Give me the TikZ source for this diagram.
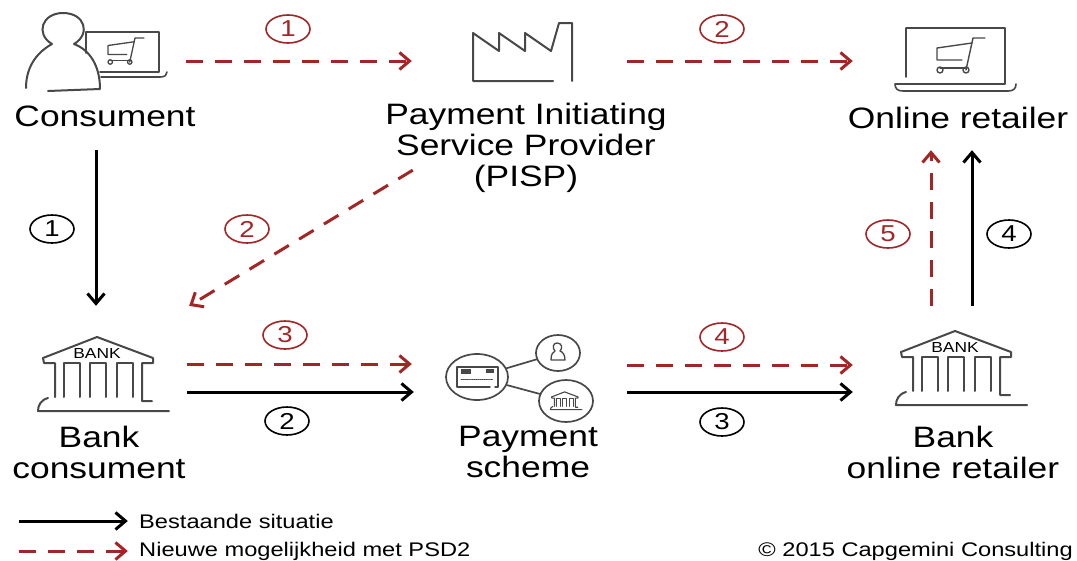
\documentclass[tikz,border=0pt]{standalone}
\usepackage{fontspec}
\setmainfont[FakeStretch=1.2]{Liberation Sans}
\usepackage{tikz}
\usetikzlibrary{arrows.meta,shapes}
\definecolor{psdred}{RGB}{163,38,38}
\definecolor{icongrey}{RGB}{72,72,72}
\tikzset{
  endpt/.style={inner sep=0pt, minimum size=0pt},
  oldflow/.style={draw=black, line width=3pt, -{Straight Barb[length=10pt,width=17pt,line width=3pt]}},
  newflow/.style={draw=psdred, line width=3pt, dash pattern=on 17pt off 12pt, -{Straight Barb[length=10pt,width=17pt,line width=3pt]}},
  numold/.style={ellipse, draw=black, line width=1.6pt, minimum width=44pt, minimum height=28pt, inner sep=0pt, font=\fontsize{23}{23}\selectfont},
  numnew/.style={numold, draw=psdred, text=psdred},
  lbl/.style={align=center, inner sep=0pt, font=\fontsize{29.5}{31}\selectfont},
  legend/.style={anchor=west, inner sep=0pt, font=\fontsize{19.7}{20}\selectfont},
  icon/.style={draw=icongrey, line width=2pt, line join=round, line cap=round},
  smallcircle/.style={ellipse, draw=icongrey, line width=1.7pt, inner sep=0pt},
  cart/.pic={
    \draw (48,0) -- (36,0) -- (29,32);
    \draw (35,5) -- (0,10) -- (0,22) -- (25,22);
    \draw (3,30) -- (29,30);
    \draw (3,32) circle (3pt);
    \draw (29,32) circle (3pt);
  },
  bankicon/.pic={
    \draw (38,358) -- (92,337) -- (148,358) -- (148,363) -- (137,363) -- (137,401) -- (147,401);
    \draw (38,358) -- (39,363) -- (50,363) -- (50,397);
    \draw (59,397) -- (59,363) -- (75,363) -- (75,397);
    \draw (85,397) -- (85,363) -- (101,363) -- (101,397);
    \draw (112,397) -- (112,363) -- (128,363) -- (128,397);
    \draw (43,398) .. controls (36,400) and (33,405) .. (33,411) -- (164,411);
  }
}
\begin{document}
\begin{tikzpicture}[x=1pt,y=-1pt]
  \useasboundingbox (0,0) rectangle (1077,560);
  \node [lbl] (consument) at (105,116) {Consument};
  \node [lbl] (pisp) at (526,148) {Payment Initiating\\Service Provider\\(PISP)};
  \node [lbl] (retailer) at (958,118) {Online retailer};
  \node [lbl] (bankc) at (99,452) {Bank\\consument};
  \node [lbl] (scheme) at (528,452) {Payment\\scheme};
  \node [lbl] (bankr) at (953,452) {Bank\\online retailer};

  \draw [icon] (26,88) .. controls (26,70) and (34,54) .. (52,44) .. controls (35,34) and (42,13) .. (63,13) .. controls (85,13) and (91,34) .. (74,44) .. controls (90,50) and (100,66) .. (100,89) -- (48,91);
  \draw [icon, line width=1.6pt] (86,53) -- (86,32) -- (159,32) -- (159,72) -- (100,72);
  \draw [icon, line width=1.6pt] (101,77) -- (160,77) .. controls (165,77) and (167,75) .. (167,72);
  \pic [icon, line width=1.3pt, scale=0.75] at (108,38) {cart};

  \draw [icon] (553,81) -- (473,81) -- (473,33) -- (499,51) -- (499,33) -- (525,51) -- (525,33) -- (551,51) -- (559,23) -- (572,23) -- (572,81);

  \draw [icon, line width=1.6pt] (906,77) -- (906,28) -- (1005,28) -- (1005,84) -- (895,84) .. controls (895,89) and (898,91) .. (903,91) -- (1008,91) .. controls (1013,91) and (1016,89) .. (1016,84);
  \pic [icon, line width=1.4pt] at (937,38) {cart};

  \pic [icon, shift={(5,0)}] at (0,0) {bankicon};
  \node [inner sep=0pt, font=\fontsize{14.5}{15}\selectfont] (banka) at (97,354) {BANK};
  \pic [icon, shift={(863,-6)}] at (0,0) {bankicon};
  \node [inner sep=0pt, font=\fontsize{14.5}{15}\selectfont] (bankb) at (955,348) {BANK};

  \node [smallcircle, minimum width=62pt, minimum height=46pt] (sa) at (477,377) {};
  \node [smallcircle, minimum width=44pt, minimum height=36pt] (sb) at (558,353) {};
  \node [smallcircle, minimum width=54pt, minimum height=42pt] (sc) at (566,401) {};
  \draw [icon, line width=1.7pt] (sa) -- (sb);
  \draw [icon, line width=1.7pt] (sa) -- (sc);
  \draw [icon, line width=1.4pt] (490,387) -- (457,387) -- (457,367) -- (498,367) -- (498,387) -- (495,387);
  \fill [icongrey] (461,369) rectangle (471,374);
  \fill [icongrey] (486,369) rectangle (494,373);
  \draw [icon, line width=0.9pt, densely dotted] (461,379) -- (493,379);
  \draw [icon, line width=1.3pt] (551,360) .. controls (551,354) and (553,352) .. (555,351) .. controls (552,348) and (553,343) .. (557,343) .. controls (562,343) and (563,348) .. (560,351) .. controls (563,352) and (565,355) .. (565,360) -- (551,360);
  \pic [icon, line width=1.1pt, scale=0.24] at (542.5,311) {bankicon};

  \node [endpt] (a1) at (186,61) {};
  \node [endpt] (a2) at (412,61) {};
  \node [endpt] (a3) at (627,61) {};
  \node [endpt] (a4) at (853,61) {};
  \node [endpt] (b1) at (96,150) {};
  \node [endpt] (b2) at (96,306) {};
  \node [endpt] (b3) at (413,170) {};
  \node [endpt] (b4) at (189,306) {};
  \node [endpt] (c1) at (187,364) {};
  \node [endpt] (c2) at (412,364) {};
  \node [endpt] (c3) at (187,392) {};
  \node [endpt] (c4) at (414,392) {};
  \node [endpt] (c5) at (627,365) {};
  \node [endpt] (c6) at (853,365) {};
  \node [endpt] (c7) at (627,392) {};
  \node [endpt] (c8) at (853,392) {};
  \node [endpt] (d1) at (931,306) {};
  \node [endpt] (d2) at (931,150) {};
  \node [endpt] (d3) at (972,306) {};
  \node [endpt] (d4) at (972,150) {};
  \node [endpt] (e1) at (19,521) {};
  \node [endpt] (e2) at (128,521) {};
  \node [endpt] (e3) at (19,551) {};
  \node [endpt] (e4) at (128,551) {};
  \draw [newflow] (a1) -- (a2);
  \draw [newflow] (a3) -- (a4);
  \draw [oldflow] (b1) -- (b2);
  \draw [newflow] (b3) -- (b4);
  \draw [newflow] (c1) -- (c2);
  \draw [oldflow] (c3) -- (c4);
  \draw [newflow] (c5) -- (c6);
  \draw [oldflow] (c7) -- (c8);
  \draw [newflow] (d1) -- (d2);
  \draw [oldflow] (d3) -- (d4);
  \draw [oldflow] (e1) -- (e2);
  \draw [newflow] (e3) -- (e4);

  \node [numnew] (n1) at (288,29) {1};
  \node [numnew] (n2) at (722,29) {2};
  \node [numold] (n3) at (52,229) {1};
  \node [numnew] (n4) at (247,229) {2};
  \node [numnew] (n5) at (285,335) {3};
  \node [numold] (n6) at (287,421) {2};
  \node [numnew] (n7) at (722,337) {4};
  \node [numold] (n8) at (722,422) {3};
  \node [numnew] (n9) at (888,234) {5};
  \node [numold] (n10) at (1009,234) {4};

  \node [legend] (l1) at (139,521) {Bestaande situatie};
  \node [legend] (l2) at (139,551) {Nieuwe mogelijkheid met PSD2};
  \node [legend, anchor=east] (l3) at (1073,551) {© 2015 Capgemini Consulting};
\end{tikzpicture}
\end{document}
